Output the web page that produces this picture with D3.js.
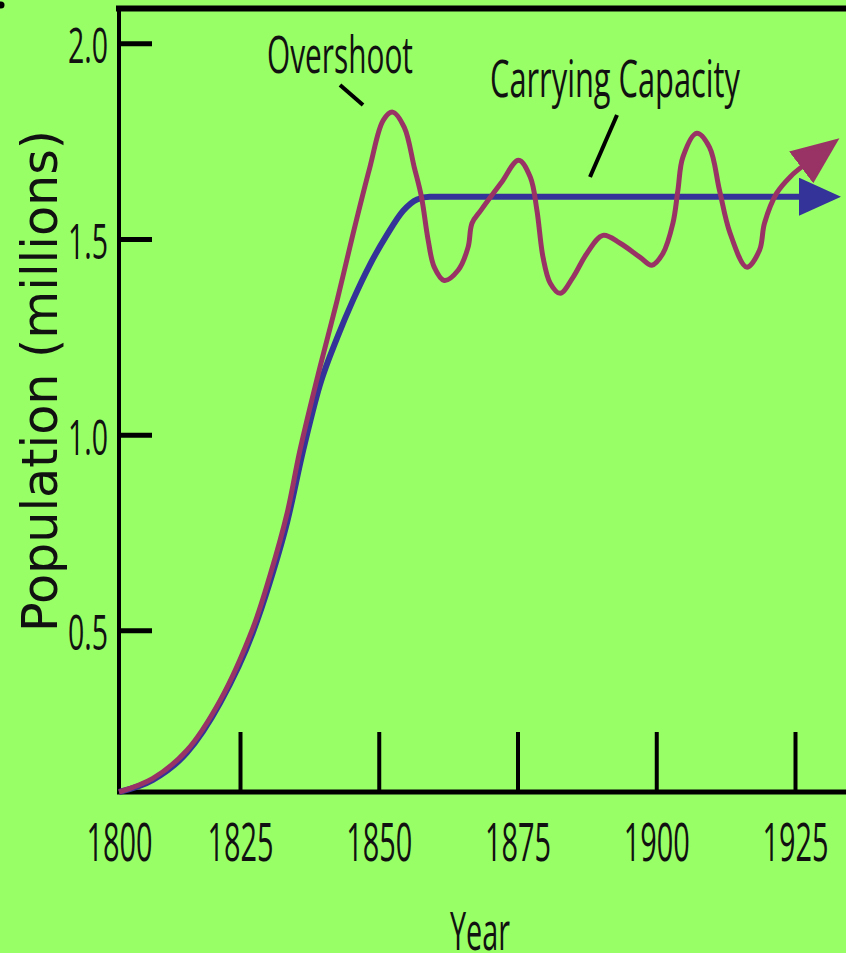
<!DOCTYPE html>
<html><head><meta charset="utf-8">
<script src="https://cdn.jsdelivr.net/npm/d3@7"></script>
<style>html,body{margin:0;padding:0;background:#99ff66;overflow:hidden}</style>
</head><body>
<svg id="chart" width="846" height="953"></svg>
<script>
// ---------- data ----------
const yearTicks = [1800, 1825, 1850, 1875, 1900, 1925];
const popTicks = [0.5, 1.0, 1.5, 2.0];
const capacityYears  = [1800, 1807, 1814, 1820.9, 1827.3, 1830.4, 1833.5, 1836.4, 1839.4, 1842.5, 1845.4, 1848.4, 1851.5, 1854.4, 1856.9, 1859.2, 1870, 1900, 1925.9];
const capacityValues = [0.087, 0.118, 0.187, 0.315, 0.494, 0.624, 0.777, 0.961, 1.127, 1.247, 1.345, 1.434, 1.511, 1.572, 1.601, 1.608, 1.608, 1.608, 1.608];
const overshootYears  = [1800, 1807, 1814, 1820.9, 1827.3, 1830.4, 1833.5, 1835.8, 1839.4, 1842.5, 1845.4, 1848.4, 1850.8, 1852.5, 1854.6, 1856.4, 1857.7, 1858.9, 1860.0, 1861.8, 1864.3, 1866.1, 1866.8, 1868.4, 1872.0, 1875.2, 1877.3, 1878.5, 1879.6, 1880.9, 1882.7, 1885.0, 1887.5, 1890.4, 1893.5, 1897.1, 1899.2, 1901.2, 1903.0, 1903.9, 1904.8, 1907.3, 1909.6, 1911.4, 1913.3, 1916.3, 1918.6, 1919.5, 1921.7, 1924.3, 1926.4];
const overshootValues = [0.087, 0.122, 0.193, 0.321, 0.505, 0.640, 0.800, 0.960, 1.172, 1.343, 1.515, 1.683, 1.803, 1.824, 1.785, 1.683, 1.607, 1.497, 1.428, 1.394, 1.420, 1.479, 1.540, 1.573, 1.642, 1.701, 1.658, 1.573, 1.453, 1.387, 1.361, 1.402, 1.463, 1.509, 1.489, 1.453, 1.433, 1.463, 1.540, 1.624, 1.709, 1.770, 1.734, 1.624, 1.515, 1.428, 1.471, 1.540, 1.617, 1.661, 1.686];
const xTitle = "Year";
const yTitle = "Population (millions)";
const annotationTexts = ["Overshoot", "Carrying Capacity"];

// ---------- layout ----------
const svg = d3.select("#chart");
const W = 846, H = 953;
const axisX = 119, axisY = 792, topY = 8;
const ink = "#111";
const labelFont = "'Open Sans', 'Liberation Sans', sans-serif";

svg.append("rect").attr("width", W).attr("height", H).attr("fill", "#99ff66");

const x = d3.scaleLinear().domain([1800, 1825, 1925]).range([axisX, 240, 795]);
const y = d3.scaleLinear().domain([0.087, 2.09]).range([axisY, topY]);

// markers
const defs = svg.append("defs");
defs.append("marker").attr("id", "arrowBlue")
  .attr("markerUnits", "userSpaceOnUse").attr("viewBox", "0 0 42 38")
  .attr("markerWidth", 42).attr("markerHeight", 38)
  .attr("refX", 1).attr("refY", 19).attr("orient", "auto")
  .append("path").attr("d", "M0,0 L42,19 L0,38 Z").attr("fill", "#333399");
defs.append("marker").attr("id", "arrowMag")
  .attr("markerUnits", "userSpaceOnUse").attr("viewBox", "0 0 48 40")
  .attr("markerWidth", 48).attr("markerHeight", 40)
  .attr("refX", 2).attr("refY", 20).attr("orient", "auto")
  .append("path").attr("d", "M0,0 L48,20 L0,40 Z").attr("fill", "#993366");

// frame lines
svg.append("line").attr("x1", 116).attr("x2", W).attr("y1", topY + 0.5).attr("y2", topY + 0.5)
  .attr("stroke", "#000").attr("stroke-width", 6);
svg.append("circle").attr("cx", 1).attr("cy", 5).attr("r", 3.5).attr("fill", "#000");

// y axis
const yAxis = svg.append("g").attr("transform", `translate(${axisX},0)`)
  .call(d3.axisLeft(y).tickValues(popTicks).tickSizeInner(-33).tickSizeOuter(0)
    .tickPadding(11).tickFormat(d3.format(".1f")));
yAxis.select(".domain").remove();
yAxis.selectAll(".tick line").attr("stroke", "#000").attr("stroke-width", 5);
yAxis.selectAll(".tick text").attr("font-family", labelFont).attr("font-size", 50)
  .attr("fill", ink).attr("dy", 19.5).attr("textLength", 40).attr("lengthAdjust", "spacingAndGlyphs");

// x axis
const xAxis = svg.append("g").attr("transform", `translate(0,${axisY})`)
  .call(d3.axisBottom(x).tickValues(yearTicks).tickSizeInner(-60).tickSizeOuter(0)
    .tickFormat(d3.format("d")));
xAxis.select(".domain").remove();
xAxis.selectAll(".tick line").attr("stroke", "#000").attr("stroke-width", 4)
  .attr("display", d => d === 1800 ? "none" : null);
xAxis.selectAll(".tick text").attr("font-family", labelFont).attr("font-size", 53)
  .attr("fill", ink).attr("y", 69).attr("dy", 0).attr("textLength", 66).attr("lengthAdjust", "spacingAndGlyphs");

// axis lines
svg.append("line").attr("x1", axisX).attr("x2", axisX).attr("y1", topY).attr("y2", axisY + 2)
  .attr("stroke", "#000").attr("stroke-width", 4);
svg.append("line").attr("x1", axisX - 2).attr("x2", W).attr("y1", axisY).attr("y2", axisY)
  .attr("stroke", "#000").attr("stroke-width", 5);

// curves
const capData = capacityYears.map((d, i) => [d, capacityValues[i]]);
const ovData = overshootYears.map((d, i) => [d, overshootValues[i]]);

svg.append("path").datum(capData)
  .attr("d", d3.line().x(d => x(d[0])).y(d => y(d[1])).curve(d3.curveMonotoneX))
  .attr("fill", "none").attr("stroke", "#333399").attr("stroke-width", 6)
  .attr("marker-end", "url(#arrowBlue)");

svg.append("path").datum(ovData)
  .attr("d", d3.line().x(d => x(d[0])).y(d => y(d[1])).curve(d3.curveCatmullRom.alpha(0.5)))
  .attr("fill", "none").attr("stroke", "#993366").attr("stroke-width", 5)
  .attr("marker-end", "url(#arrowMag)");

// annotations
svg.append("text").attr("x", 267).attr("y", 73).text(annotationTexts[0])
  .attr("font-family", labelFont).attr("font-size", 52).attr("fill", ink)
  .attr("textLength", 146).attr("lengthAdjust", "spacingAndGlyphs");
svg.append("line").attr("x1", 340).attr("y1", 85).attr("x2", 363).attr("y2", 105)
  .attr("stroke", "#000").attr("stroke-width", 4);
svg.append("text").attr("x", 490).attr("y", 97).text(annotationTexts[1])
  .attr("font-family", labelFont).attr("font-size", 52).attr("fill", ink)
  .attr("textLength", 250).attr("lengthAdjust", "spacingAndGlyphs");
svg.append("line").attr("x1", 617).attr("y1", 115).attr("x2", 590).attr("y2", 177)
  .attr("stroke", "#000").attr("stroke-width", 4);

// titles
svg.append("text").attr("x", 480).attr("y", 950).attr("text-anchor", "middle").text(xTitle)
  .attr("font-family", labelFont).attr("font-size", 53).attr("fill", ink)
  .attr("textLength", 60).attr("lengthAdjust", "spacingAndGlyphs");
svg.append("text").attr("transform", "translate(57,381) rotate(-90)").attr("text-anchor", "middle")
  .text(yTitle).attr("font-family", "'DejaVu Sans', sans-serif").attr("font-size", 49).attr("fill", ink)
  .attr("textLength", 502).attr("lengthAdjust", "spacingAndGlyphs");
</script>
</body></html>
